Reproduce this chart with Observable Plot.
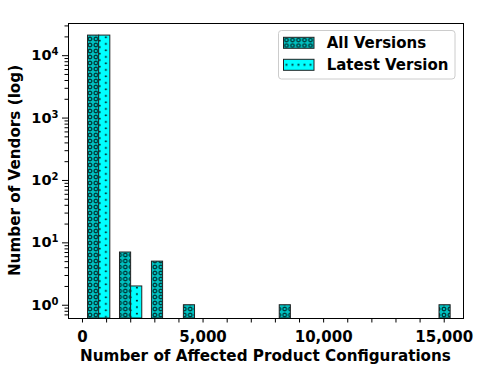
<!DOCTYPE html>
<html><head><meta charset="utf-8">
<script src="https://cdn.jsdelivr.net/npm/d3@7"></script>
<script src="https://cdn.jsdelivr.net/npm/@observablehq/plot@0.6"></script>
<style>
body{margin:0;background:#fff}
#chart svg text{font-family:"DejaVu Sans",sans-serif;font-weight:bold}
</style>
</head><body><div id="chart"></div>
<script>
// Data (bin centers, counts per series)
const binCenters = [692, 2017, 3342, 4667, 8642, 15267];
const allVersions = [21000, 7, 5, 1, 1, 1];
const latestVersion = [21000, 2, 0, 0, 0, 0];
const seriesNames = ["All Versions", "Latest Version"];
const xMinorTicks = [1000, 2000, 3000, 4000, 6000, 7000, 8000, 9000, 11000, 12000, 13000, 14000];
const xMajorTicks = [0, 5000, 10000, 15000];
const xMajorLabels = ["0", "5,000", "10,000", "15,000"];
const yMajorTicks = [1, 10, 100, 1000, 10000];
const yMinorTicks = [0.7, 0.8, 0.9, 2, 3, 4, 5, 6, 7, 8, 9, 20, 30, 40, 50, 60, 70, 80, 90,
  200, 300, 400, 500, 600, 700, 800, 900, 2000, 3000, 4000, 5000, 6000, 7000, 8000, 9000, 20000, 30000];
const xTitle = "Number of Affected Product Configurations";
const yTitle = "Number of Vendors (log)";

const halfBar = 462; // half of the bin's bar group, data units
const yDomain = [0.613, 32800];
const xDomain = [-580, 15800];

const rowsAll = binCenters.map((c, i) => ({c, v: allVersions[i]})).filter(d => d.v > 0);
const rowsLatest = binCenters.map((c, i) => ({c, v: latestVersion[i]})).filter(d => d.v > 0);
const xLabelMap = new Map(xMajorTicks.map((t, i) => [t, xMajorLabels[i]]));

const W = 494, H = 382, mL = 68, mR = 31, mT = 23, mB = 64;

const svg = Plot.plot({
  width: W, height: H,
  marginLeft: mL, marginRight: mR, marginTop: mT, marginBottom: mB,
  style: {fontFamily: "DejaVu Sans", fontSize: "15px", fontWeight: "bold", color: "black", background: "white"},
  x: {domain: xDomain, label: null},
  y: {type: "log", domain: yDomain, label: null},
  marks: [
    Plot.rect(rowsAll, {x1: d => d.c - halfBar, x2: d => d.c, y1: yDomain[0], y2: "v",
      fill: "url(#hatchO)", stroke: "#222", strokeWidth: 1}),
    Plot.rect(rowsLatest, {x1: d => d.c, x2: d => d.c + halfBar, y1: yDomain[0], y2: "v",
      fill: "url(#hatchDot)", stroke: "#222", strokeWidth: 1}),
    Plot.axisX({ticks: xMinorTicks, tickSize: 4.5, tickFormat: () => "", stroke: "black"}),
    Plot.axisX({ticks: xMajorTicks, tickSize: 4.5, tickPadding: 8, tickFormat: d => xLabelMap.get(d), stroke: "black", fill: "black"}),
    Plot.axisY({ticks: yMinorTicks, tickSize: 3.5, tickFormat: () => "", stroke: "black"}),
    Plot.axisY({ticks: yMajorTicks, tickSize: 6, tickPadding: 4, tickFormat: d => "10^" + Math.round(Math.log10(d)), stroke: "black", fill: "black"}),
    Plot.frame({stroke: "black", strokeWidth: 1})
  ]
});

const s = d3.select(svg);
const defs = s.insert("defs", ":first-child");
// 'o' hatch on matplotlib 'c' colour
const pO = defs.append("pattern").attr("id", "hatchO").attr("patternUnits", "userSpaceOnUse")
  .attr("x", 87).attr("y", 0).attr("width", 5.9).attr("height", 6);
pO.append("rect").attr("width", 5.9).attr("height", 6).attr("fill", "#00bfbf");
pO.append("circle").attr("cx", 2.95).attr("cy", 3).attr("r", 1.9).attr("fill", "none").attr("stroke", "#000").attr("stroke-width", 0.9);
// '.' hatch on cyan
const pD = defs.append("pattern").attr("id", "hatchDot").attr("patternUnits", "userSpaceOnUse")
  .attr("x", 98.7).attr("y", 0).attr("width", 12.4).attr("height", 6.5);
pD.append("rect").attr("width", 12.4).attr("height", 6.5).attr("fill", "#00ffff");
pD.append("circle").attr("cx", 1).attr("cy", 1.6).attr("r", 0.9).attr("fill", "#000");
pD.append("circle").attr("cx", 7.2).attr("cy", 4.85).attr("r", 0.9).attr("fill", "#000");

// superscript formatting of log tick labels
s.selectAll("text").each(function() {
  const m = /^10\^(\d)$/.exec(this.textContent);
  if (m) {
    const t = d3.select(this);
    t.text("").style("font-size", "14.5px");
    t.append("tspan").text("10");
    t.append("tspan").attr("dy", "-0.5em").style("font-size", "10px").text(m[1]);
  }
});

// axis titles
s.append("text").attr("x", mL + (W - mL - mR) / 2).attr("y", 361).attr("text-anchor", "middle")
  .style("font-size", "15.2px").attr("fill", "black").text(xTitle);
s.append("text").attr("transform", `translate(20,${mT + (H - mT - mB) / 2}) rotate(-90)`)
  .attr("text-anchor", "middle").style("font-size", "15.2px").attr("fill", "black").text(yTitle);

// legend
const lg = s.append("g").attr("text-anchor", "start");
lg.append("rect").attr("x", 278.5).attr("y", 30.5).attr("width", 176.5).attr("height", 48.5)
  .attr("rx", 3).attr("fill", "white").attr("fill-opacity", 0.8).attr("stroke", "#cccccc");
const patIds = ["hatchOL", "hatchDotL"];
seriesNames.forEach((name, i) => {
  const y0 = 37.3 + i * 22;
  lg.append("rect").attr("x", 283.5).attr("y", y0).attr("width", 30.5).attr("height", 11)
    .attr("fill", `url(#${patIds[i]})`).attr("stroke", "#222").attr("stroke-width", 1);
  lg.append("text").attr("x", 326.7).attr("y", y0 + 11).attr("text-anchor", "start")
    .style("font-size", "15px").attr("fill", "black").text(name);
});
// legend swatch patterns aligned to swatches
const pOL = defs.append("pattern").attr("id", "hatchOL").attr("patternUnits", "userSpaceOnUse")
  .attr("x", 283.5).attr("y", 37.3).attr("width", 6).attr("height", 5.5);
pOL.append("rect").attr("width", 6).attr("height", 5.5).attr("fill", "#00bfbf");
pOL.append("circle").attr("cx", 3).attr("cy", 2.75).attr("r", 1.8).attr("fill", "none").attr("stroke", "#000").attr("stroke-width", 0.9);
const pDL = defs.append("pattern").attr("id", "hatchDotL").attr("patternUnits", "userSpaceOnUse")
  .attr("x", 283.5).attr("y", 59.3).attr("width", 6).attr("height", 11);
pDL.append("rect").attr("width", 6).attr("height", 11).attr("fill", "#00ffff");
pDL.append("circle").attr("cx", 3).attr("cy", 5.5).attr("r", 0.9).attr("fill", "#000");

document.getElementById("chart").appendChild(svg);
</script>
</body></html>
